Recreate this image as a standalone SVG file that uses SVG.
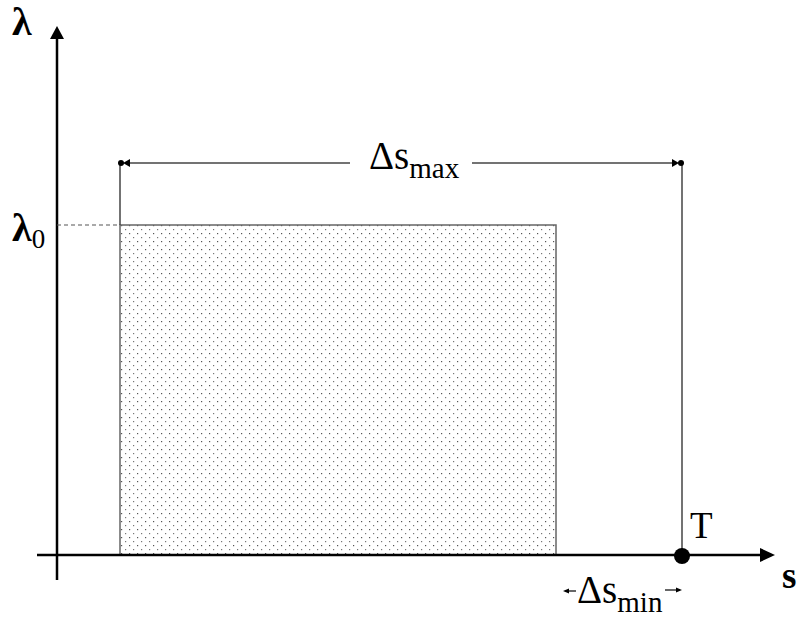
<svg xmlns="http://www.w3.org/2000/svg" width="797" height="622" viewBox="0 0 797 622">
<style>
text{font-family:'Liberation Serif','Times New Roman',serif;fill:#000}
.axis{stroke:#000;stroke-width:2.5;fill:none}
.thin{stroke:#444;stroke-width:1.5;fill:none}
</style>
<defs>
<pattern id="dots" x="0" y="0" width="8" height="8" patternUnits="userSpaceOnUse">
<rect x="1" y="1" width="1.2" height="1.2" fill="#555"/>
<rect x="5" y="5" width="1.2" height="1.2" fill="#777"/>
</pattern>
</defs>
<g id="region">
<rect x="120" y="225" width="436" height="330" fill="url(#dots)" stroke="#666" stroke-width="1.5"/>
</g>
<g id="connectors">
<line class="axis" x1="57" y1="580" x2="57" y2="38"/>
<path d="M50,39 L57,26 L64,39 z" fill="#000"/>
<line class="axis" x1="37" y1="555" x2="762" y2="555"/>
<path d="M760,548 L775,555 L760,562 z" fill="#000"/>
<line x1="57" y1="225" x2="120" y2="225" stroke="#555" stroke-width="1.2" stroke-dasharray="4,3"/>
<line class="thin" x1="120" y1="163" x2="120" y2="225"/>
<line class="thin" x1="682" y1="163" x2="682" y2="555"/>
<line class="thin" x1="126" y1="163" x2="350" y2="163"/>
<line class="thin" x1="472" y1="163" x2="676" y2="163"/>
<path d="M123,163 L130,159 L130,167 z" fill="#000"/>
<circle cx="121" cy="163" r="3" fill="#000"/>
<path d="M679,163 L672,159 L672,167 z" fill="#000"/>
<circle cx="681" cy="163" r="3" fill="#000"/>
<line x1="576" y1="591" x2="567" y2="591" stroke="#000" stroke-width="1.2"/>
<path d="M563,591 L569,588.5 L569,593.5 z" fill="#000"/>
<line x1="665" y1="590" x2="677" y2="590" stroke="#000" stroke-width="1.2"/>
<path d="M682,590 L676,587.5 L676,592.5 z" fill="#000"/>
</g>
<g id="point-T">
<circle cx="682" cy="556" r="8" fill="#000"/>
<text x="690" y="538" font-size="37">T</text>
</g>
<g id="labels">
<text x="12" y="35" font-size="40" font-weight="bold">λ</text>
<text x="12" y="241" font-size="40" font-weight="bold">λ<tspan font-size="27" font-weight="normal" dy="7">0</tspan></text>
<text x="782" y="588" font-size="37" font-weight="bold">s</text>
<text x="369" y="169" font-size="39">Δs<tspan font-size="29" dy="9">max</tspan></text>
<text x="577" y="603" font-size="39">Δs<tspan font-size="29" dy="9">min</tspan></text>
</g>
</svg>
